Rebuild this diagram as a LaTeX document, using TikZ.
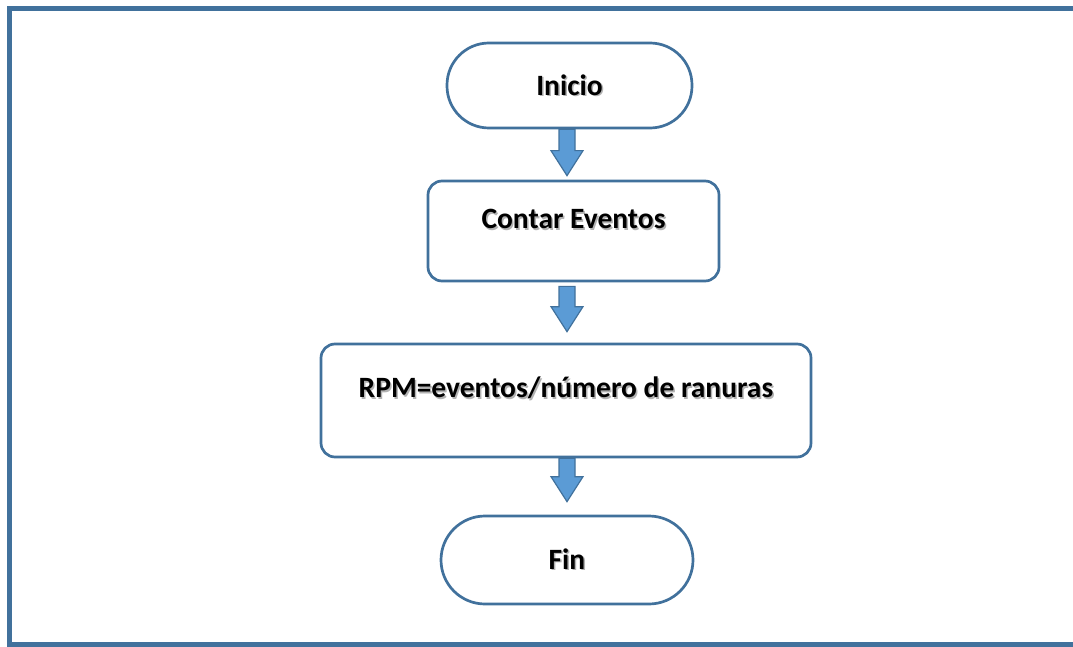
\documentclass[tikz,border=0pt]{standalone}
\usepackage{fontspec}
\setmainfont{Carlito}
\usetikzlibrary{calc}

\definecolor{edgeblue}{HTML}{41719C}
\definecolor{fillblue}{HTML}{5B9BD5}

% bold label with a soft grey drop shadow
\newcommand{\shtext}[1]{\makebox[0pt][l]{\hspace{1.5pt}\raisebox{-1.5pt}{\color{black!30}#1}}#1}

\tikzset{
  box/.style={draw=edgeblue, line width=2.7pt, fill=white, rounded corners=14pt,
              font=\fontsize{29.5}{32}\selectfont\bfseries, inner sep=0pt},
  terminal/.style={box, rounded corners=42pt},
  frameline/.style={draw=edgeblue, line width=5pt},
  blockarrow/.style={draw=edgeblue, fill=fillblue, line width=1.2pt, line join=miter}
}

% block arrow from the bottom of #1 to the top of #2; #3 = gap at top, #4 = gap at the tip
\newcommand{\blockarrow}[4]{%
  \filldraw[blockarrow] let \p1=(ax |- #1.south), \p2=(ax |- #2.north) in
    (\x1-8pt,\y1-#3pt) -- (\x1+8pt,\y1-#3pt) -- (\x1+8pt,\y2+#4pt+25pt)
    -- (\x1+16pt,\y2+#4pt+25pt) -- (\x1,\y2+#4pt) -- (\x1-16pt,\y2+#4pt+25pt)
    -- (\x1-8pt,\y2+#4pt+25pt) -- cycle;}

\begin{document}
\begin{tikzpicture}[x=1pt,y=-1pt]
  \useasboundingbox (0,0) rectangle (1073,647);

  % outer frame (open on the right)
  \draw[frameline] (1090,8.5) -- (9.5,8.5) -- (9.5,644.5) -- (1090,644.5);

  \coordinate (ax) at (567,0);

  \node[terminal, minimum width=245pt, minimum height=85pt] (inicio) at (569.5,85.5) {\raisebox{-3pt}[20pt][6pt]{\shtext{Inicio}}};
  \node[box, minimum width=291pt, minimum height=100pt] (contar) at (573.5,231) {\raisebox{24pt}{\shtext{Contar Eventos}}};
  \node[box, minimum width=490pt, minimum height=113pt] (rpm) at (566,400.5) {\raisebox{26pt}{\shtext{RPM=eventos/número de ranuras}}};
  \node[terminal, minimum width=252pt, minimum height=88pt, rounded corners=44pt] (fin) at (567,560) {\raisebox{-2pt}[20pt][6pt]{\shtext{Fin}}};

  \blockarrow{inicio}{contar}{0}{4}
  \blockarrow{contar}{rpm}{4}{11}
  \blockarrow{rpm}{fin}{0}{13}
\end{tikzpicture}
\end{document}
